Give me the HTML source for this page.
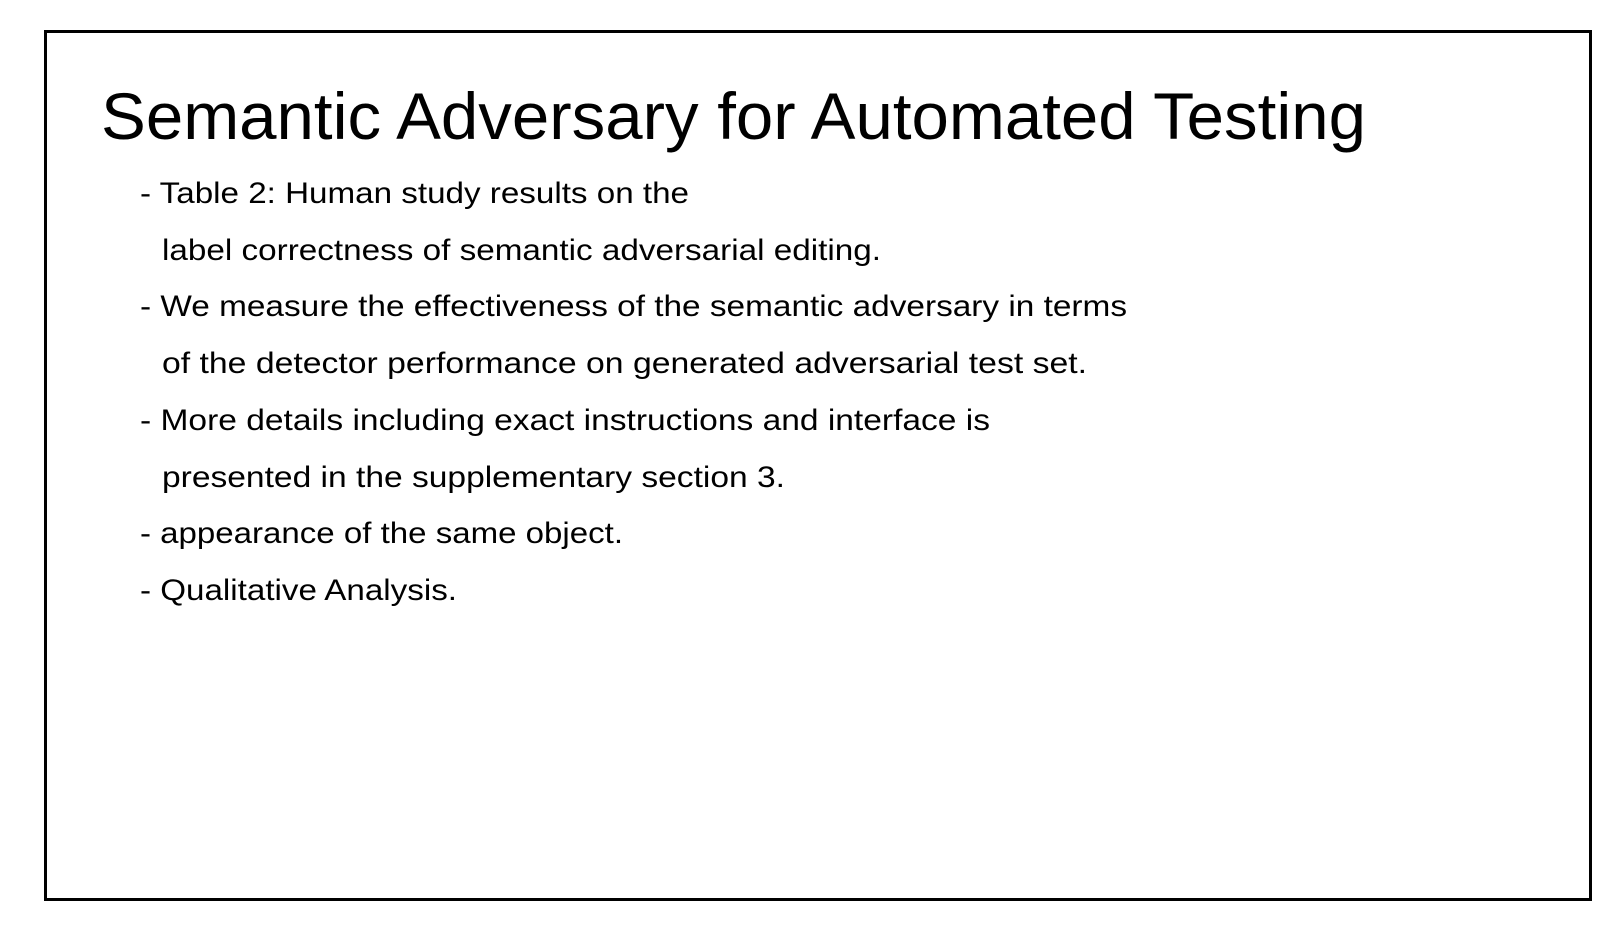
<!DOCTYPE html>
<html>
<head>
<meta charset="utf-8">
<style>
  html, body { margin: 0; padding: 0; background: #fff; }
  svg { display: block; }
  text { font-family: "Liberation Sans", sans-serif; fill: #000; }
</style>
</head>
<body>
<svg width="1620" height="944" viewBox="0 0 1620 944">
  <rect x="0" y="0" width="1620" height="944" fill="#fff"/>
  <rect x="45.5" y="31.5" width="1545" height="868" fill="none" stroke="#000" stroke-width="3"/>
  <text x="101" y="139" font-size="66" textLength="1265" lengthAdjust="spacingAndGlyphs">Semantic Adversary for Automated Testing</text>
  <g font-size="30">
    <text x="140" y="203" textLength="549" lengthAdjust="spacingAndGlyphs">- Table 2: Human study results on the</text>
    <text x="162" y="260" textLength="719" lengthAdjust="spacingAndGlyphs">label correctness of semantic adversarial editing.</text>
    <text x="140" y="316" textLength="987" lengthAdjust="spacingAndGlyphs">- We measure the effectiveness of the semantic adversary in terms</text>
    <text x="162" y="373" textLength="925" lengthAdjust="spacingAndGlyphs">of the detector performance on generated adversarial test set.</text>
    <text x="140" y="430" textLength="850" lengthAdjust="spacingAndGlyphs">- More details including exact instructions and interface is</text>
    <text x="162" y="487" textLength="623" lengthAdjust="spacingAndGlyphs">presented in the supplementary section 3.</text>
    <text x="140" y="543" textLength="483" lengthAdjust="spacingAndGlyphs">- appearance of the same object.</text>
    <text x="140" y="600" textLength="317" lengthAdjust="spacingAndGlyphs">- Qualitative Analysis.</text>
  </g>
</svg>
</body>
</html>
